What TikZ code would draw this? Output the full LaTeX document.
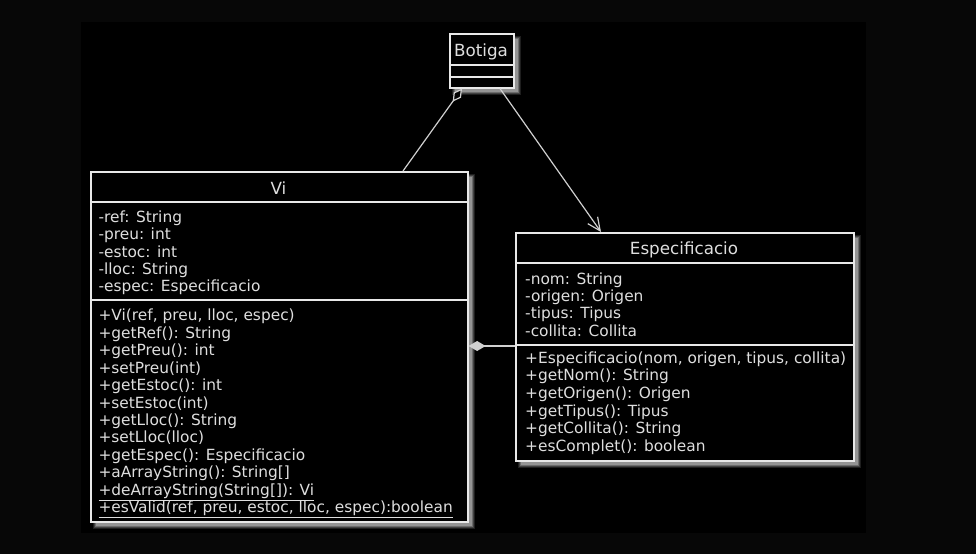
\documentclass[tikz,border=0pt]{standalone}
\usepackage{fontspec}
\setmainfont{DejaVu Sans}
\usetikzlibrary{arrows.meta,calc}
\definecolor{outerbg}{HTML}{070707}
\definecolor{linec}{HTML}{E8E8E8}
\definecolor{textc}{HTML}{DEDEDE}
\definecolor{connc}{HTML}{D0D0D0}
\definecolor{shadc}{HTML}{D0D0D0}
\newcommand{\umlshadow}[4]{%
  \foreach \k/\op in {3/0.15,2/0.2,1/0.3,0/0.4}{%
    \fill[shadc,opacity=\op] (#1+6-\k,#2+6-\k) rectangle (#3+5+\k,#4+5+\k);}}
\tikzset{
  classbox/.style={draw=linec,line width=1.6bp,fill=black,inner sep=0pt,anchor=north west},
  sepline/.style={draw=linec,line width=1.6bp},
  member/.style={text=textc,inner sep=0pt,anchor=west,text height=11.4bp,text depth=3.5bp,
    font=\fontsize{15.45}{17.45}\selectfont},
  ctitle/.style={text=textc,inner sep=0pt,anchor=center,text height=12bp,text depth=0bp,
    font=\fontsize{16.8}{19}\selectfont},
  conn/.style={draw=connc,line width=1.2bp},
}
\begin{document}
\begin{tikzpicture}[x=1bp,y=-1bp]
\useasboundingbox (0,0) rectangle (976,554);
\fill[outerbg] (0,0) rectangle (976,554);
\fill[black] (81,22) rectangle (866,533);

% shadows
\umlshadow{449}{33}{513}{87}
\umlshadow{90}{171}{467}{521}
\umlshadow{515}{232}{853}{460}

% Botiga
\node[classbox,minimum width=64bp,minimum height=54bp] (botiga) at (449,33) {};
\draw[sepline] (449,65) -- (513,65);
\draw[sepline] (449,77) -- (513,77);
\node[ctitle] (botigaT) at (481,50.5) {Botiga};

% Vi
\node[classbox,minimum width=377bp,minimum height=350bp] (vi) at (90,171) {};
\draw[sepline] (90,202) -- (467,202);
\draw[sepline] (90,300) -- (467,300);
\node[ctitle] (viT) at (278.5,188.5) {Vi};
\foreach \t [count=\i] in {{-ref: String},{-preu: int},{-estoc: int},{-lloc: String},{-espec: Especificacio}}
  \node[member] (viA\i) at (98.3,{218.5+(\i-1)*17.35}) {\t};
\foreach \t [count=\i] in {{+Vi(ref, preu, lloc, espec)},{+getRef(): String},{+getPreu(): int},{+setPreu(int)},{+getEstoc(): int},{+setEstoc(int)},{+getLloc(): String},{+setLloc(lloc)},{+getEspec(): Especificacio},{+aArrayString(): String[]},{\underline{+deArrayString(String[]): Vi}},{\underline{+esValid(ref, preu, estoc, lloc, espec):boolean}}}
  \node[member] (viM\i) at (98.3,{317+(\i-1)*17.43}) {\t};

% Especificacio
\node[classbox,minimum width=338bp,minimum height=228bp] (esp) at (515,232) {};
\draw[sepline] (515,263) -- (853,263);
\draw[sepline] (515,345) -- (853,345);
\node[ctitle] (espT) at (684,249) {Especificacio};
\foreach \t [count=\i] in {{-nom: String},{-origen: Origen},{-tipus: Tipus},{-collita: Collita}}
  \node[member] (espA\i) at (525,{280.2+(\i-1)*17.35}) {\t};
\foreach \t [count=\i] in {{+Especificacio(nom, origen, tipus, collita)},{+getNom(): String},{+getOrigen(): Origen},{+getTipus(): Tipus},{+getCollita(): String},{+esComplet(): boolean}}
  \node[member] (espM\i) at (525,{359.3+(\i-1)*17.6}) {\t};

% connectors
\draw[conn,{Diamond[length=16bp,width=9bp,fill=black]}-]
  ($(botiga.south west)+(13,0)$) -- ($(vi.north west)+(313,0)$);
\draw[conn,-{Straight Barb[length=13bp,width=12bp]}]
  ($(botiga.south west)+(51,0)$) -- ($(esp.north west)+(86,0)$);
\draw[conn,{Diamond[length=17bp,width=10bp,fill=connc]}-]
  ($(vi.north east)+(0,175)$) -- ($(esp.north west)+(0,114)$);
\end{tikzpicture}
\end{document}
